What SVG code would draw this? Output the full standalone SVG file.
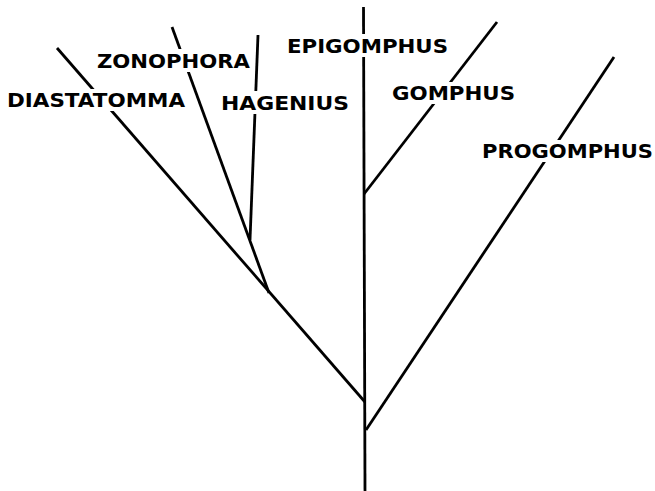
<svg xmlns="http://www.w3.org/2000/svg" width="655" height="491" viewBox="0 0 655 491">
<style>
.e{stroke:#000;stroke-width:2.8;fill:none;stroke-linecap:butt}
.bg{fill:#fff}
.t{font-family:"DejaVu Sans",sans-serif;font-weight:bold;font-size:20px;fill:#000}
</style>
<rect width="655" height="491" fill="#fff"/>
<g id="connectors">
<line class="e" x1="363.5" y1="7" x2="365" y2="491"/>
<line class="e" x1="57" y1="48" x2="365" y2="402"/>
<line class="e" x1="172" y1="27" x2="269" y2="293"/>
<line class="e" x1="258" y1="35" x2="250" y2="240"/>
<line class="e" x1="497" y1="22" x2="364" y2="194"/>
<line class="e" x1="614" y1="57" x2="366" y2="430"/>
</g>
<g id="diastatomma"><rect class="bg" x="5" y="89" width="183" height="22"/><text class="t" x="7" y="107" textLength="178" lengthAdjust="spacingAndGlyphs">DIASTATOMMA</text></g>
<g id="zonophora"><rect class="bg" x="95" y="49" width="158" height="23"/><text class="t" x="97" y="68" textLength="153" lengthAdjust="spacingAndGlyphs">ZONOPHORA</text></g>
<g id="hagenius"><rect class="bg" x="219" y="91" width="133" height="23"/><text class="t" x="221" y="110" textLength="128" lengthAdjust="spacingAndGlyphs">HAGENIUS</text></g>
<g id="epigomphus"><rect class="bg" x="284" y="34" width="167" height="23"/><text class="t" x="287" y="53" textLength="161" lengthAdjust="spacingAndGlyphs">EPIGOMPHUS</text></g>
<g id="gomphus"><rect class="bg" x="389" y="82" width="129" height="22"/><text class="t" x="392" y="100" textLength="123" lengthAdjust="spacingAndGlyphs">GOMPHUS</text></g>
<g id="progomphus"><rect class="bg" x="479" y="140" width="176" height="22"/><text class="t" x="482" y="158" textLength="171" lengthAdjust="spacingAndGlyphs">PROGOMPHUS</text></g>
</svg>
